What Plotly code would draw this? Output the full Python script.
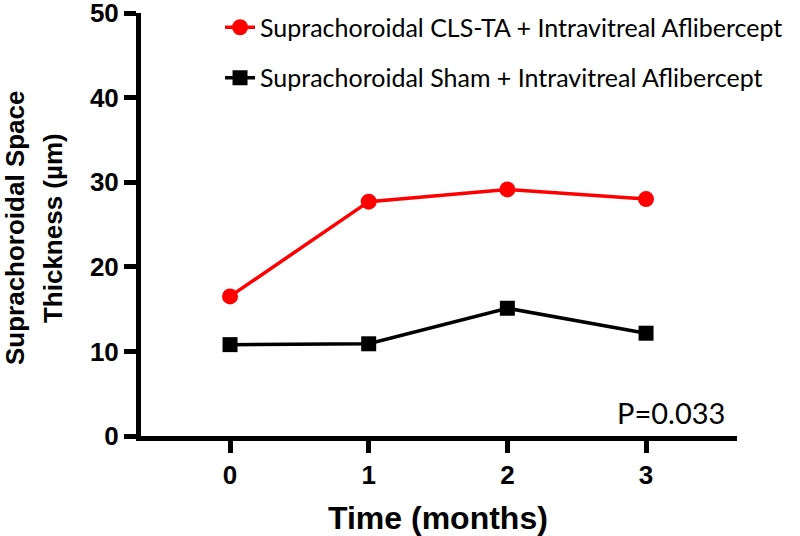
import plotly.graph_objects as go

months = [0, 1, 2, 3]
cls_ta = [16.5, 27.7, 29.15, 28.0]
sham = [10.8, 10.9, 15.1, 12.15]
series_names = ["Suprachoroidal CLS-TA + Intravitreal Aflibercept",
                "Suprachoroidal Sham + Intravitreal Aflibercept"]
y_ticks = [0, 10, 20, 30, 40, 50]
x_ticks = [0, 1, 2, 3]
y_title = ["Suprachoroidal Space", "Thickness (µm)"]
x_title = "Time (months)"
p_text = "P=0.033"

fig = go.Figure()
fig.add_trace(go.Scatter(x=months, y=cls_ta, mode="lines+markers", name=series_names[0],
                         legendgroup="a",
                         line=dict(color="#ff0000", width=3.5),
                         marker=dict(symbol="circle", size=16, color="#ff0000")))
fig.add_trace(go.Scatter(x=months, y=sham, mode="lines+markers", name=series_names[1],
                         legendgroup="b",
                         line=dict(color="#000000", width=3.5),
                         marker=dict(symbol="square", size=15, color="#000000")))

bold_font = dict(family="Liberation Sans, Arial", size=26, color="black", weight="bold")
fig.update_layout(
    width=800, height=536,
    margin=dict(l=141, r=63, t=0, b=100),
    plot_bgcolor="white", paper_bgcolor="white",
    showlegend=True,
    legend=dict(x=0.1326, y=0.9897, xanchor="left", yanchor="top",
                font=dict(family="Lato, Open Sans", size=25, color="black"),
                traceorder="grouped", tracegroupgap=15,
                bgcolor="rgba(0,0,0,0)"),
    xaxis=dict(range=[-0.642, 3.656], tickvals=x_ticks, ticktext=[str(v) for v in x_ticks],
               showline=True, linecolor="black", linewidth=5, showgrid=False, zeroline=False,
               ticks="outside", ticklen=12, tickwidth=5, tickcolor="black",
               tickfont=bold_font, automargin=False),
    yaxis=dict(range=[0, 50], domain=[0, 423 / 436], tickvals=y_ticks, showline=True,
               linecolor="black", linewidth=5,
               showgrid=False, zeroline=False, ticks="outside", ticklen=12, tickwidth=5,
               tickcolor="black", tickfont=bold_font, ticklabeloverflow="allow",
               automargin=False),
)
title_font = dict(family="Liberation Sans, Arial", size=26, color="black", weight="bold")
fig.add_annotation(x=-0.2114, y=0.477, xref="paper", yref="paper", text=y_title[0],
                   textangle=-90, showarrow=False, xanchor="center", yanchor="middle",
                   font=title_font)
fig.add_annotation(x=-0.1476, y=0.477, xref="paper", yref="paper", text=y_title[1],
                   textangle=-90, showarrow=False, xanchor="center", yanchor="middle",
                   font=title_font)
fig.add_annotation(x=0.498, y=-0.188, xref="paper", yref="paper", text=x_title,
                   showarrow=False, xanchor="center", yanchor="middle",
                   font=dict(family="Liberation Sans, Arial", size=32, color="black", weight="bold"))
fig.add_annotation(x=3.584, y=2.83, xref="x", yref="y", text=p_text, showarrow=False,
                   xanchor="right", yanchor="middle",
                   font=dict(family="Lato, Open Sans", size=29, color="black"))
fig.write_html("out.html", config={"displayModeBar": False},
               post_script="document.body.style.margin='0';")
